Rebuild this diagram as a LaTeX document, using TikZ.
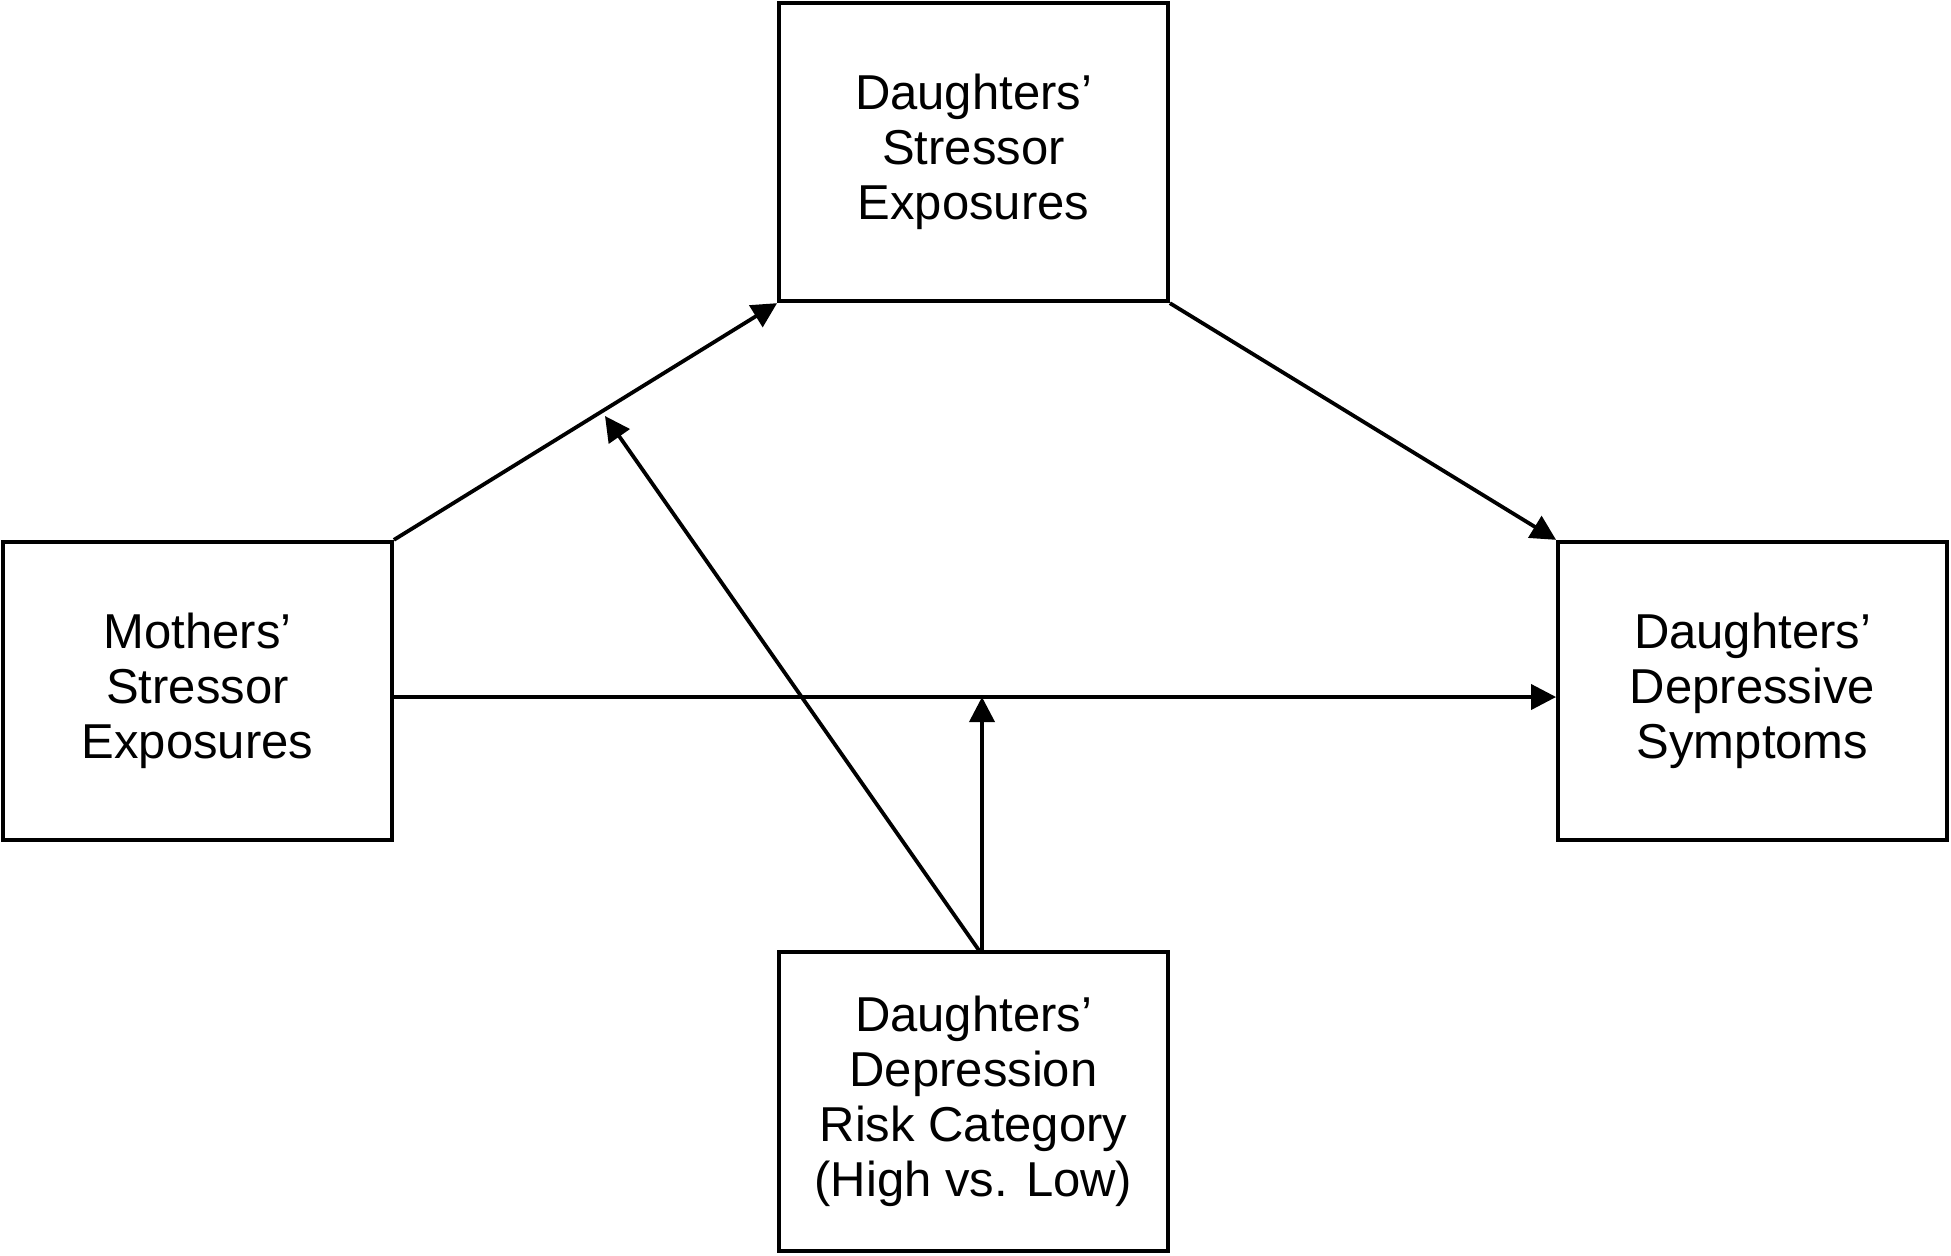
\documentclass[tikz,border=0pt]{standalone}
\usepackage{fontspec}
\setmainfont{Liberation Sans}
\usetikzlibrary{arrows.meta}
\begin{document}
\begin{tikzpicture}[x=0.5pt,y=-0.5pt,
  box/.style={draw,line width=1.9pt,minimum width=194.5pt,minimum height=149.25pt,inner sep=0pt,align=center,font=\fontsize{24.5}{27.5}\selectfont},
  arr/.style={line width=1.9pt,-{Triangle[length=12.5pt,width=12.5pt]}}]
\useasboundingbox (0,0) rectangle (1951,1255);
\node[box] (ds) at (973.5,152) {Daughters’\\Stressor\\Exposures};
\node[box] (ms) at (197.5,691) {Mothers’\\Stressor\\Exposures};
\node[box] (dd) at (1752.5,691) {Daughters’\\Depressive\\Symptoms};
\node[box] (rc) at (973.5,1101.5) {Daughters’\\Depression\\Risk Category\\(High vs. Low)};
\coordinate (h) at (0,697);
\coordinate (v) at (982,0);
\coordinate (d) at (979,0);
\coordinate (t1) at (605,416);
\draw[arr] (ms.north east) -- (ds.south west);
\draw[arr] (ds.south east) -- (dd.north west);
\draw[arr] (ms.east |- h) -- (dd.west |- h);
\draw[arr] (rc.north -| v) -- (v |- h);
\draw[arr] (rc.north -| d) -- (t1);
\end{tikzpicture}
\end{document}
